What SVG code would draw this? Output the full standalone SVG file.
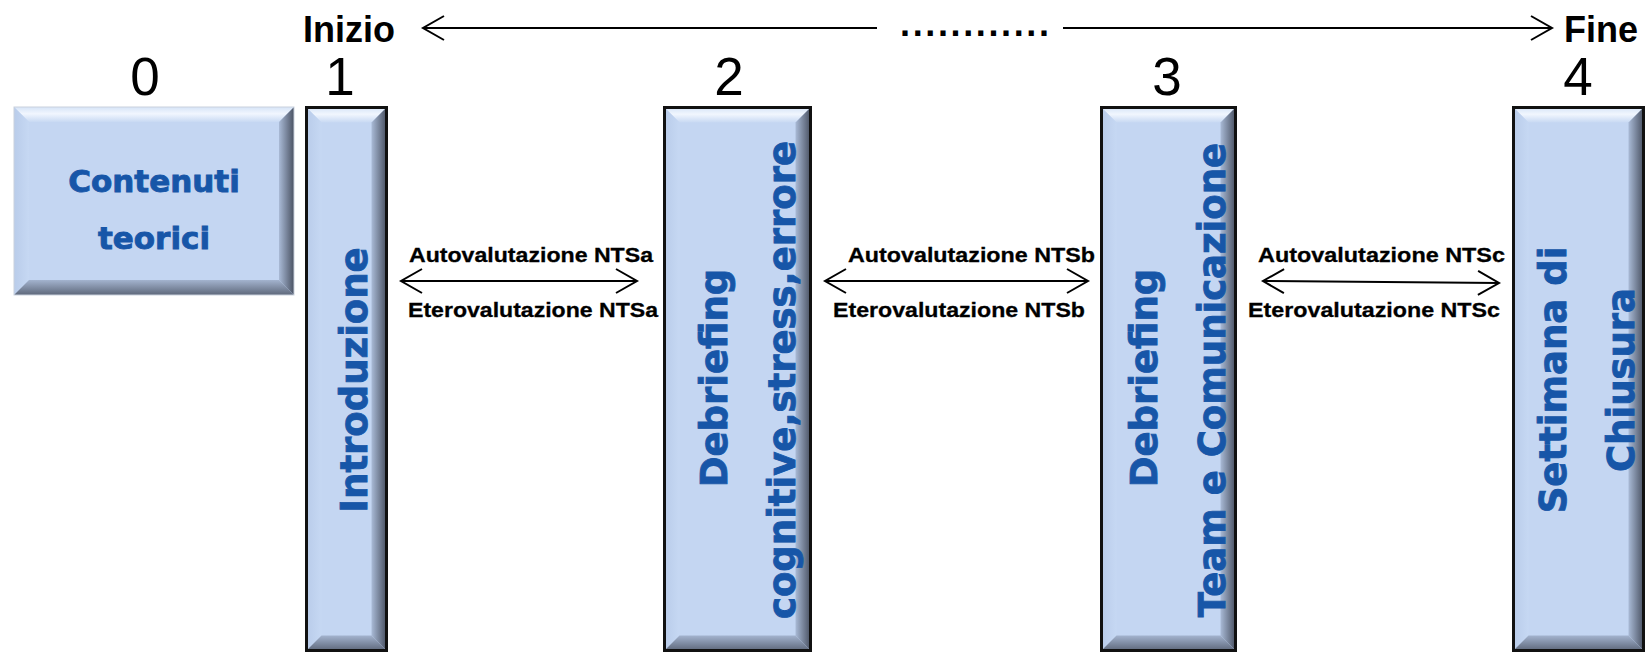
<svg xmlns="http://www.w3.org/2000/svg" width="1646" height="652" viewBox="0 0 1646 652">
<defs>
<linearGradient id="gTop" x1="0" y1="0" x2="0" y2="1"><stop offset="0" stop-color="#D6E4F7"/><stop offset="0.45" stop-color="#F1F6FE"/><stop offset="1" stop-color="#C8D9F3"/></linearGradient>
<linearGradient id="gLeft" x1="0" y1="0" x2="1" y2="0"><stop offset="0" stop-color="#B9CCEA"/><stop offset="1" stop-color="#C6D8F3"/></linearGradient>
<linearGradient id="gRight" x1="0" y1="0" x2="1" y2="0"><stop offset="0" stop-color="#A9BAD6"/><stop offset="1" stop-color="#4A5263"/></linearGradient>
<linearGradient id="gBot" x1="0" y1="0" x2="0" y2="1"><stop offset="0" stop-color="#A3B3CE"/><stop offset="1" stop-color="#5E687B"/></linearGradient>
<marker id="ah" markerUnits="userSpaceOnUse" markerWidth="30" markerHeight="30" refX="0" refY="0" orient="auto-start-reverse" overflow="visible">
<path d="M-21,-12 L0,0 L-21,12" fill="none" stroke="#000" stroke-width="2"/>
</marker>
</defs>
<style>
.face{fill:#C4D6F2}
.top{fill:url(#gTop)}
.left{fill:url(#gLeft)}
.right{fill:url(#gRight)}
.bot{fill:url(#gBot)}
.frame{fill:none;stroke:#111;stroke-width:3}
.frame0{fill:none;stroke:#C9D1DD;stroke-width:1}
.blue{font-family:"DejaVu Sans",Verdana,sans-serif;font-weight:bold;fill:#1756A8;stroke:#1756A8;stroke-width:0.9}
.num{font-family:"Liberation Sans",Arial,sans-serif;font-size:53px;fill:#000;text-anchor:middle}
.big{font-family:"Liberation Sans",Arial,sans-serif;font-size:36px;font-weight:bold;fill:#000}
.lbl{font-family:"Liberation Sans",Arial,sans-serif;font-size:21px;font-weight:bold;fill:#000;stroke:#000;stroke-width:0.3}
.conn{fill:none;stroke:#000;stroke-width:2}
</style>
<rect width="1646" height="652" fill="#fff"/>

<g id="timeline-labels">
<text class="big" x="303" y="42">Inizio</text>
<text class="big" x="1564" y="42">Fine</text>
<text class="big" x="900" y="36" textLength="149" lengthAdjust="spacing">............</text>
<text class="num" x="145" y="95">0</text>
<text class="num" x="340" y="95">1</text>
<text class="num" x="729" y="95">2</text>
<text class="num" x="1167" y="95">3</text>
<text class="num" x="1578" y="95">4</text>
</g>

<g id="node0">
<rect class="face" x="14" y="107" width="280" height="188"/>
<polygon class="top" points="14,107 294,107 279,122 29,122"/>
<polygon class="left" points="14,107 29,122 29,280 14,295"/>
<polygon class="right" points="294,107 294,295 279,280 279,122"/>
<polygon class="bot" points="14,295 294,295 279,280 29,280"/>
<rect class="frame0" x="14" y="107" width="280" height="188"/>
<text class="blue" font-size="31" x="154" y="192" text-anchor="middle">Contenuti</text>
<text class="blue" font-size="31" x="154" y="249" text-anchor="middle">teorici</text>
</g>

<g id="node1">
<rect class="face" x="306.5" y="107.5" width="80" height="543"/>
<polygon class="top" points="306.5,107.5 386.5,107.5 371.5,122.5 321.5,122.5"/>
<polygon class="left" points="306.5,107.5 321.5,122.5 321.5,635.5 306.5,650.5"/>
<polygon class="right" points="386.5,107.5 386.5,650.5 371.5,635.5 371.5,122.5"/>
<polygon class="bot" points="306.5,650.5 386.5,650.5 371.5,635.5 321.5,635.5"/>
<rect class="frame" x="306.5" y="107.5" width="80" height="543"/>
<text class="blue" font-size="37" text-anchor="middle" transform="translate(367,380) rotate(-90)">Introduzione</text>
</g>

<g id="node2">
<rect class="face" x="664.5" y="107.5" width="146" height="543"/>
<polygon class="top" points="664.5,107.5 810.5,107.5 795.5,122.5 679.5,122.5"/>
<polygon class="left" points="664.5,107.5 679.5,122.5 679.5,635.5 664.5,650.5"/>
<polygon class="right" points="810.5,107.5 810.5,650.5 795.5,635.5 795.5,122.5"/>
<polygon class="bot" points="664.5,650.5 810.5,650.5 795.5,635.5 679.5,635.5"/>
<rect class="frame" x="664.5" y="107.5" width="146" height="543"/>
<text class="blue" font-size="37" text-anchor="middle" transform="translate(727,378) rotate(-90)">Debriefing</text>
<text class="blue" font-size="37" text-anchor="middle" transform="translate(795,380) rotate(-90)">cognitive,stress,errore</text>
</g>

<g id="node3">
<rect class="face" x="1101.5" y="107.5" width="134" height="543"/>
<polygon class="top" points="1101.5,107.5 1235.5,107.5 1220.5,122.5 1116.5,122.5"/>
<polygon class="left" points="1101.5,107.5 1116.5,122.5 1116.5,635.5 1101.5,650.5"/>
<polygon class="right" points="1235.5,107.5 1235.5,650.5 1220.5,635.5 1220.5,122.5"/>
<polygon class="bot" points="1101.5,650.5 1235.5,650.5 1220.5,635.5 1116.5,635.5"/>
<rect class="frame" x="1101.5" y="107.5" width="134" height="543"/>
<text class="blue" font-size="37" text-anchor="middle" transform="translate(1157,378) rotate(-90)">Debriefing</text>
<text class="blue" font-size="37" text-anchor="middle" transform="translate(1225,380) rotate(-90)">Team e Comunicazione</text>
</g>

<g id="node4">
<rect class="face" x="1513.5" y="107.5" width="130" height="543"/>
<polygon class="top" points="1513.5,107.5 1643.5,107.5 1628.5,122.5 1528.5,122.5"/>
<polygon class="left" points="1513.5,107.5 1528.5,122.5 1528.5,635.5 1513.5,650.5"/>
<polygon class="right" points="1643.5,107.5 1643.5,650.5 1628.5,635.5 1628.5,122.5"/>
<polygon class="bot" points="1513.5,650.5 1643.5,650.5 1628.5,635.5 1528.5,635.5"/>
<rect class="frame" x="1513.5" y="107.5" width="130" height="543"/>
<text class="blue" font-size="37" text-anchor="middle" transform="translate(1566,380) rotate(-90)">Settimana di</text>
<text class="blue" font-size="37" text-anchor="middle" transform="translate(1634,380) rotate(-90)">Chiusura</text>
</g>

<g id="connectors">
<line class="conn" x1="877" y1="28" x2="423" y2="28" marker-end="url(#ah)"/>
<line class="conn" x1="1063" y1="28" x2="1552" y2="28" marker-end="url(#ah)"/>
<line class="conn" x1="401" y1="281" x2="637" y2="281" marker-start="url(#ah)" marker-end="url(#ah)"/>
<line class="conn" x1="825" y1="281" x2="1088" y2="281" marker-start="url(#ah)" marker-end="url(#ah)"/>
<line class="conn" x1="1263" y1="281" x2="1499" y2="283" marker-start="url(#ah)" marker-end="url(#ah)"/>
<text class="lbl" x="409" y="262" textLength="244" lengthAdjust="spacingAndGlyphs">Autovalutazione NTSa</text>
<text class="lbl" x="408" y="317" textLength="250" lengthAdjust="spacingAndGlyphs">Eterovalutazione NTSa</text>
<text class="lbl" x="848" y="262" textLength="247" lengthAdjust="spacingAndGlyphs">Autovalutazione NTSb</text>
<text class="lbl" x="833" y="317" textLength="252" lengthAdjust="spacingAndGlyphs">Eterovalutazione NTSb</text>
<text class="lbl" x="1258" y="262" textLength="247" lengthAdjust="spacingAndGlyphs">Autovalutazione NTSc</text>
<text class="lbl" x="1248" y="317" textLength="252" lengthAdjust="spacingAndGlyphs">Eterovalutazione NTSc</text>
</g>
</svg>
